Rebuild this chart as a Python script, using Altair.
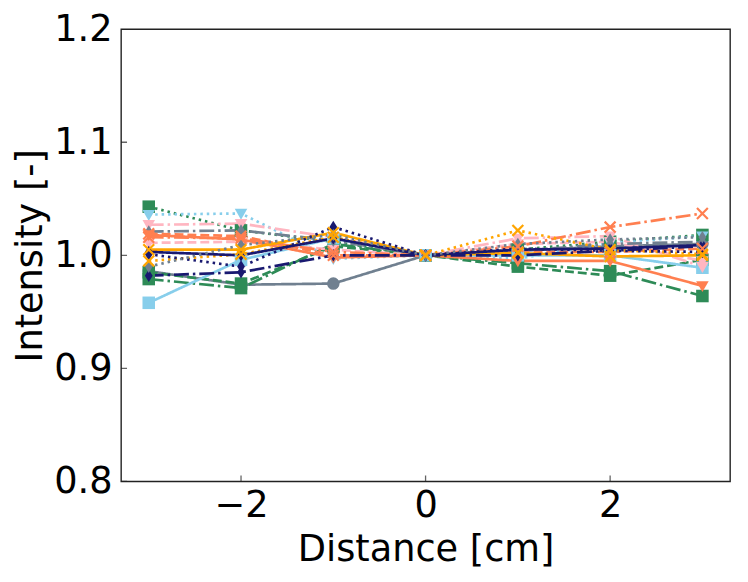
import altair as alt
import pandas as pd

# ---- data ----
x_values = [-3, -2, -1, 0, 1, 2, 3]

series_names = [f"s{i}" for i in range(1, 19)]
series_values = [
    [0.986, 0.974, 0.975, 1.000, 1.004, 1.008, 1.010],  # s1 slategray circle solid
    [1.043, 1.022, 1.012, 1.000, 1.005, 1.012, 1.018],  # s2 seagreen square dotted
    [0.985, 0.975, 1.008, 1.000, 0.990, 0.982, 0.996],  # s3 seagreen square dashed
    [0.979, 0.971, 1.010, 1.000, 0.993, 0.986, 0.964],  # s4 seagreen square dashdot
    [1.036, 1.037, 0.997, 1.000, 0.997, 1.011, 1.017],  # s5 skyblue tri dotted
    [0.958, 0.996, 1.015, 1.000, 1.000, 1.000, 0.989],  # s6 skyblue square solid
    [1.027, 1.028, 1.016, 1.000, 1.015, 1.017, 0.990],  # s7 pink tri dashdot
    [1.011, 1.012, 1.005, 1.000, 1.010, 1.012, 0.995],  # s8 pink tri dashed
    [1.021, 1.022, 1.013, 1.000, 1.004, 1.010, 1.012],  # s9 slategray diamond dashdot
    [1.018, 1.014, 0.998, 1.000, 0.995, 0.995, 0.973],  # s10 coral tri solid
    [1.016, 1.015, 1.003, 1.000, 1.008, 1.025, 1.037],  # s11 coral x dashdot
    [1.019, 1.017, 1.000, 1.000, 1.003, 1.003, 1.006],  # s12 coral x dashed
    [1.005, 1.005, 1.020, 1.000, 1.002, 0.999, 1.000],  # s13 orange x solid
    [0.995, 1.001, 1.016, 1.000, 1.022, 1.005, 1.001],  # s14 orange x dotted
    [1.003, 1.000, 1.015, 1.000, 1.005, 1.006, 1.009],  # s15 navy diamond solid
    [1.001, 0.990, 1.025, 1.000, 1.006, 1.004, 1.003],  # s16 navy diamond dotted
    [0.982, 0.985, 1.000, 1.000, 1.000, 1.004, 1.008],  # s17 navy diamond dashdot
    [0.990, 1.009, 1.018, 1.000, 1.010, 1.014, 1.016],  # s18 slategray dotted
]

series_colors = [
    "#708090", "#2e8b57", "#2e8b57", "#2e8b57", "#87ceeb", "#87ceeb",
    "#ffb6c1", "#ffb6c1", "#708090", "#ff7f50", "#ff7f50", "#ff7f50",
    "#ffa500", "#ffa500", "#191970", "#191970", "#191970", "#708090",
]
series_markers = [
    "circle", "square", "square", "square", "tri", "square",
    "tri", "tri", "diamond", "tri", "x", "x",
    "x", "x", "diamond", "diamond", "diamond", "diamond",
]
series_styles = [
    "solid", "dotted", "dashed", "dashdot", "dotted", "solid",
    "dashdot", "dashed", "dashdot", "solid", "dashdot", "dashed",
    "solid", "dotted", "solid", "dotted", "dashdot", "dotted",
]

x_ticks = [-2, 0, 2]
y_ticks = [0.8, 0.9, 1.0, 1.1, 1.2]
x_domain = [-3.3, 3.3]
y_domain = [0.8, 1.2]

# ---- styles ----
dash_map = {"solid": [1, 0], "dotted": [2.5, 4], "dashed": [9, 4], "dashdot": [15, 4, 2.5, 4]}
shape_map = {
    "circle": "circle",
    "square": "square",
    "tri": "M-1,-0.75L1,-0.75L0,1Z",
    "diamond": "M0,-1L0.62,0L0,1L-0.62,0Z",
    "x": "M-1,-1L1,1M-1,1L1,-1",
}

rows = []
for name, vals, mk in zip(series_names, series_values, series_markers):
    for xv, yv in zip(x_values, vals):
        rows.append({"series": name, "x": xv, "y": yv, "marker": mk})
df = pd.DataFrame(rows)

FONT = "DejaVu Sans"
xscale = alt.Scale(domain=x_domain, nice=False, zero=False)
yscale = alt.Scale(domain=y_domain, nice=False, zero=False)

color = alt.Color("series:N", scale=alt.Scale(domain=series_names, range=series_colors), legend=None)
dash = alt.StrokeDash("series:N",
                      scale=alt.Scale(domain=series_names, range=[dash_map[s] for s in series_styles]),
                      legend=None)
shape = alt.Shape("marker:N",
                  scale=alt.Scale(domain=list(shape_map.keys()), range=list(shape_map.values())),
                  legend=None)

xax = alt.Axis(values=x_ticks, format="d", tickSize=0, grid=False, domain=False,
               labelFont=FONT, labelFontSize=37, labelColor="black", labelPadding=6,
               title="Distance [cm]", titleFont=FONT, titleFontSize=37, titleFontWeight="normal",
               titleColor="black", titlePadding=9)
yax = alt.Axis(values=y_ticks, format=".1f", tickSize=0, grid=False, domain=False,
               labelFont=FONT, labelFontSize=37, labelColor="black", labelPadding=9,
               title="Intensity [-]", titleFont=FONT, titleFontSize=37, titleFontWeight="normal",
               titleColor="black", titlePadding=4)

base = alt.Chart(df)

lines = base.mark_line(strokeWidth=2.7, clip=True).encode(
    x=alt.X("x:Q", scale=xscale, axis=xax),
    y=alt.Y("y:Q", scale=yscale, axis=yax),
    color=color,
    strokeDash=dash,
    detail="series:N",
    order="x:Q",
)

filled_pts = base.transform_filter(alt.datum.marker != "x").mark_point(
    filled=True, size=160, opacity=1, strokeWidth=0
).encode(
    x=alt.X("x:Q", scale=xscale),
    y=alt.Y("y:Q", scale=yscale),
    color=color,
    shape=shape,
)

x_pts = base.transform_filter(alt.datum.marker == "x").mark_point(
    filled=False, size=120, opacity=1, strokeWidth=2.2
).encode(
    x=alt.X("x:Q", scale=xscale),
    y=alt.Y("y:Q", scale=yscale),
    color=color,
    shape=shape,
)

ytick_df = pd.DataFrame({"y": y_ticks, "x": [x_domain[0]] * len(y_ticks)})
xtick_df = pd.DataFrame({"x": x_ticks, "y": [y_domain[0]] * len(x_ticks)})

yticks = alt.Chart(ytick_df).mark_tick(orient="horizontal", size=12, thickness=1.3,
                                       color="#222222", clip=True).encode(
    x=alt.X("x:Q", scale=xscale), y=alt.Y("y:Q", scale=yscale))
xticks = alt.Chart(xtick_df).mark_tick(orient="vertical", size=12, thickness=1.3,
                                       color="#222222", clip=True).encode(
    x=alt.X("x:Q", scale=xscale), y=alt.Y("y:Q", scale=yscale))

chart = alt.layer(lines, filled_pts, x_pts, yticks, xticks).properties(
    width=614, height=456,
    autosize=alt.AutoSizeParams(type="none"),
    padding={"left": 114, "top": 19, "right": 10, "bottom": 95},
    background="white",
).configure_view(stroke="#222222", strokeWidth=1.4)

chart.save("out.html", embed_options={"renderer": "svg", "actions": False})
